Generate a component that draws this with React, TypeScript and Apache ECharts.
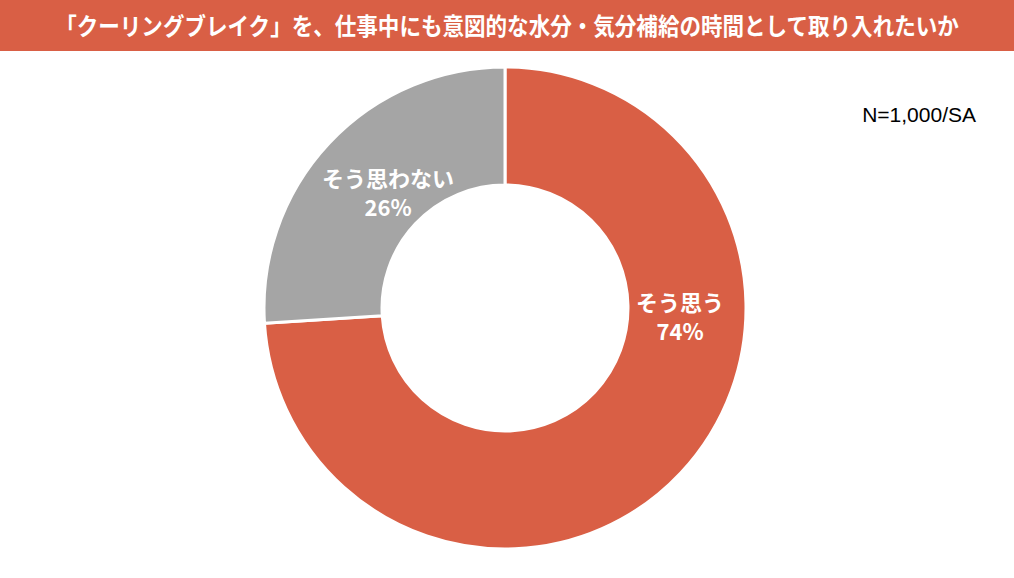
import React, { useEffect, useRef } from "react";
import * as echarts from "echarts";

const titleText = "「クーリングブレイク」を、仕事中にも意図的な水分・気分補給の時間として取り入れたいか";
const sampleNote = "N=1,000/SA";
const categories = ["そう思う", "そう思わない"];
const values = [74, 26];
const colors = ["#D95F45", "#A5A5A5"];
const labelPositions = [
  [680, 315],
  [388, 191],
];

export default function App() {
  const ref = useRef<HTMLDivElement>(null);
  useEffect(() => {
    document.body.style.margin = "0";
    const chart = echarts.init(ref.current!, null, { renderer: "svg" });
    chart.setOption({
      animation: false,
      backgroundColor: "#FFFFFF",
      graphic: [
        {
          type: "rect",
          left: 0,
          top: 0,
          shape: { width: 1014, height: 51 },
          style: { fill: "#D95F45" },
          z: 0,
        },
        {
          type: "text",
          x: 507,
          y: 25,
          scaleX: 0.898,
          z: 10,
          style: {
            text: titleText,
            fill: "#FFFFFF",
            fontSize: 24,
            fontWeight: "bold",
            fontFamily: "Noto Sans CJK JP",
            align: "center",
            verticalAlign: "middle",
          },
        },
        {
          type: "text",
          x: 976,
          y: 114,
          z: 10,
          style: {
            text: sampleNote,
            fill: "#000000",
            fontSize: 21,
            fontFamily: "Liberation Sans",
            align: "right",
            verticalAlign: "middle",
          },
        },
      ],
      series: [
        {
          type: "pie",
          center: [505, 308],
          radius: [123, 241],
          startAngle: 90,
          clockwise: true,
          itemStyle: { borderColor: "#FFFFFF", borderWidth: 3 },
          label: {
            show: true,
            position: "inside",
            color: "#FFFFFF",
            fontSize: 22,
            fontWeight: "bold",
            lineHeight: 29,
            fontFamily: "Noto Sans CJK JP",
            formatter: (p: any) => `${p.name}\n${p.value}%`,
          },
          labelLayout: (p: any) => ({
            x: labelPositions[p.dataIndex][0],
            y: labelPositions[p.dataIndex][1],
            align: "center",
            verticalAlign: "middle",
          }),
          emphasis: { disabled: true },
          data: categories.map((c, i) => ({
            name: c,
            value: values[i],
            itemStyle: { color: colors[i] },
          })),
        },
      ],
    });
    return () => chart.dispose();
  }, []);
  return <div ref={ref} style={{ width: 1014, height: 578 }} />;
}
